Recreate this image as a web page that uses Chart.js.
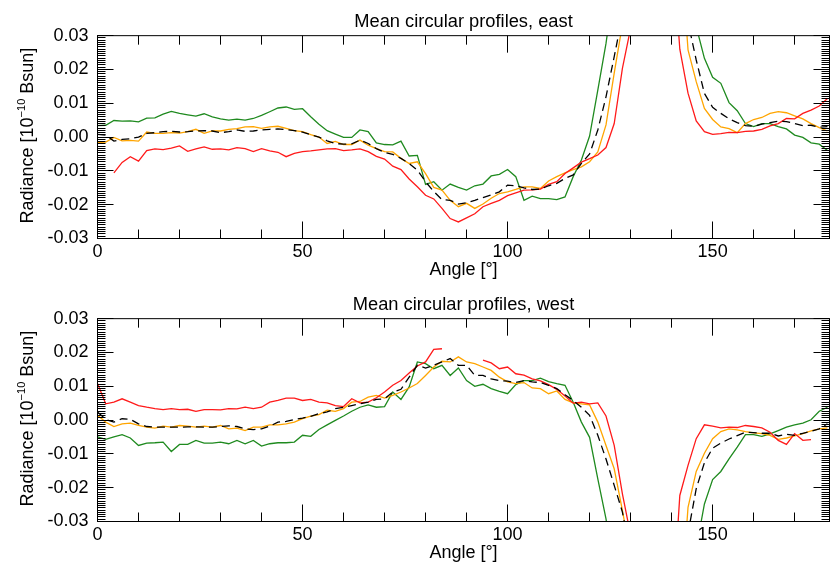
<!DOCTYPE html>
<html lang="en">
<head>
<meta charset="UTF-8">
<title>Mean circular profiles</title>
<style>
  body { margin: 0; background: #fff; }
  .panel { width: 831px; height: 285px; }
</style>
</head>
<body>
<div class="panel"><canvas id="eastChart" width="831" height="285"></canvas></div>
<div class="panel"><canvas id="westChart" width="831" height="285"></canvas></div>

<script src="https://cdn.jsdelivr.net/npm/chart.js"></script>
<script>
// angle grid, every 2 degrees
const angles = [0,2,4,6,8,10,12,14,16,18,20,22,24,26,28,30,32,34,36,38,40,42,44,46,48,50,52,54,56,58,
  60,62,64,66,68,70,72,74,76,78,80,82,84,86,88,90,92,94,96,98,100,102,104,106,108,110,112,114,116,118,
  120,122,124,126,128,130,132,134,136,138,140,142,144,146,148,150,152,154,156,158,160,162,164,166,168,170,172,174,176,178];

const xTicks = [0, 50, 100, 150];
const yTicks = [-0.03, -0.02, -0.01, 0, 0.01, 0.02, 0.03];

// east profiles
const eastMean = [0.0008,0.0006,-0.0012,-0.0007,-0.0005,0.0000,0.0011,0.0013,0.0016,0.0017,0.0015,0.0016,0.0018,0.0019,0.0018,0.0013,0.0016,0.0021,0.0017,0.0018,
  0.0021,0.0023,0.0024,0.0022,0.0019,0.0015,0.0007,0.0000,-0.0011,-0.0019,-0.0021,-0.0020,-0.0009,-0.0019,-0.0034,-0.0045,-0.0051,-0.0063,-0.0078,-0.0098,
  -0.0132,-0.0161,-0.0185,-0.0187,-0.0198,-0.0194,-0.0187,-0.0179,-0.0171,-0.0162,-0.0142,-0.0144,-0.0150,-0.0155,-0.0154,-0.0144,-0.0137,-0.0122,-0.0112,-0.0078,
  -0.0050,0.0021,0.0119,0.0238,0.036,0.06,0.06,0.06,0.06,0.06,0.06,0.06,0.034,0.0228,0.0129,0.0088,0.0070,0.0054,0.0043,0.0034,
  0.0032,0.0038,0.0043,0.0047,0.0046,0.0040,0.0034,0.0035,0.0029,0.0031];
const eastRed = [null,null,-0.0106,-0.0075,-0.0058,-0.0071,-0.0040,-0.0035,-0.0037,-0.0033,-0.0026,-0.0042,-0.0035,-0.0029,-0.0036,-0.0035,-0.0038,-0.0031,-0.0034,-0.0043,
  -0.0034,-0.0041,-0.0045,-0.0058,-0.0048,-0.0043,-0.0041,-0.0038,-0.0035,-0.0034,-0.0040,-0.0038,-0.0035,-0.0043,-0.0057,-0.0065,-0.0086,-0.0096,-0.0124,-0.0147,
  -0.0172,-0.0183,-0.0211,-0.0241,-0.0251,-0.0239,-0.0227,-0.0206,-0.0196,-0.0187,-0.0173,-0.0165,-0.0157,-0.0156,-0.0154,-0.0140,-0.0132,-0.0108,-0.0091,-0.0074,
  -0.0064,-0.0053,-0.0031,0.0040,0.0203,0.0322,0.06,0.06,0.06,0.06,0.06,0.026,0.0130,0.0048,0.0016,0.0008,0.0010,0.0014,0.0013,0.0017,
  0.0018,0.0023,0.0033,0.0040,0.0055,0.0054,0.0070,0.0080,0.0092,0.0114];
const eastOrange = [-0.0016,-0.0015,-0.0001,-0.0011,-0.0010,-0.0012,0.0015,0.0011,0.0011,0.0013,0.0012,0.0016,0.0023,0.0011,0.0018,0.0018,0.0023,0.0025,0.0030,0.0031,
  0.0026,0.0030,0.0032,0.0026,0.0019,0.0016,0.0007,0.0000,-0.0019,-0.0013,-0.0022,-0.0022,-0.0009,-0.0024,-0.0034,-0.0043,-0.0044,-0.0063,-0.0078,-0.0073,
  -0.0108,-0.0149,-0.0157,-0.0187,-0.0206,-0.0196,-0.0211,-0.0198,-0.0181,-0.0167,-0.0162,-0.0155,-0.0147,-0.0147,-0.0152,-0.0130,-0.0117,-0.0106,-0.0096,-0.0088,
  -0.0073,-0.0044,0.0036,0.0189,0.0333,0.06,0.06,0.06,0.06,0.06,0.06,0.06,0.0258,0.0164,0.0085,0.0052,0.0030,0.0025,0.0013,0.0040,
  0.0052,0.0058,0.0070,0.0075,0.0072,0.0063,0.0054,0.0040,0.0028,0.0018];
const eastGreen = [0.0034,0.0035,0.0049,0.0047,0.0048,0.0045,0.0056,0.0057,0.0068,0.0076,0.0070,0.0066,0.0062,0.0069,0.0060,0.0054,0.0050,0.0053,0.0050,0.0055,
  0.0064,0.0075,0.0086,0.0089,0.0082,0.0084,0.0060,0.0038,0.0019,0.0009,-0.0001,-0.0001,0.0021,0.0016,-0.0017,-0.0022,-0.0023,-0.0012,-0.0056,-0.0054,
  -0.0140,-0.0132,-0.0157,-0.0139,-0.0149,-0.0157,-0.0144,-0.0139,-0.0115,-0.0110,-0.0096,-0.0117,-0.0187,-0.0175,-0.0182,-0.0182,-0.0185,-0.0177,-0.0117,-0.0068,
  0.0003,0.0139,0.0277,0.045,0.06,0.06,0.06,0.06,0.06,0.06,0.06,0.06,0.06,0.0327,0.0233,0.0177,0.0159,0.0102,0.0078,0.0040,
  0.0031,0.0040,0.0040,0.0031,0.0024,0.0006,-0.0001,-0.0017,-0.0021,-0.0040];

// west profiles
const westMean = [0.0024,0.0002,-0.0006,0.0004,0.0002,-0.0011,-0.0019,-0.0021,-0.0021,-0.0021,-0.0021,-0.0020,-0.0020,-0.0021,-0.0021,-0.0019,-0.0017,-0.0019,-0.0026,-0.0028,
  -0.0026,-0.0018,-0.0006,-0.0004,0.0002,0.0006,0.0011,0.0019,0.0024,0.0034,0.0038,0.0043,0.0048,0.0053,0.0061,0.0063,0.0083,0.0091,0.0127,0.0162,
  0.0154,0.0162,0.0172,0.0182,0.0162,0.0162,0.0132,0.0132,0.0122,0.0117,0.0115,0.0111,0.0117,0.0113,0.0111,0.0103,0.0093,0.0075,0.0058,0.0038,
  0.0014,-0.0045,-0.0115,-0.0193,-0.0272,-0.04,-0.06,-0.06,-0.06,-0.06,-0.06,-0.06,-0.0335,-0.0203,-0.0126,-0.0083,-0.0068,-0.0056,-0.0046,-0.0036,
  -0.0037,-0.0039,-0.0039,-0.0047,-0.0042,-0.0045,-0.0039,-0.0033,-0.0026,-0.0011];
const westRed = [0.0108,0.0048,0.0053,0.0063,0.0053,0.0043,0.0038,0.0034,0.0031,0.0034,0.0031,0.0032,0.0026,0.0031,0.0031,0.0030,0.0034,0.0033,0.0038,0.0034,
  0.0038,0.0053,0.0058,0.0065,0.0065,0.0058,0.0061,0.0053,0.0051,0.0043,0.0040,0.0063,0.0051,0.0053,0.0066,0.0083,0.0103,0.0117,0.0139,0.0160,
  0.0172,0.0209,0.0211,null,null,null,null,0.0177,0.0169,0.0152,0.0157,0.0137,0.0133,0.0122,0.0116,0.0105,0.0091,0.0071,0.0050,0.0053,
  0.0048,0.0051,0.0012,-0.0075,-0.0218,-0.034,-0.06,-0.06,-0.06,-0.06,-0.06,-0.0223,-0.0134,-0.0055,-0.0014,-0.0018,-0.0023,-0.0021,-0.0022,-0.0016,
  -0.0019,-0.0023,-0.0036,-0.0060,-0.0072,-0.0040,-0.0060,-0.0058,null,null];
const westOrange = [0.0014,-0.0006,-0.0019,-0.0011,-0.0009,-0.0016,-0.0021,-0.0024,-0.0018,-0.0021,-0.0016,-0.0018,-0.0021,-0.0018,-0.0021,-0.0016,-0.0026,-0.0024,-0.0031,-0.0021,
  -0.0021,-0.0014,-0.0014,-0.0011,-0.0006,0.0004,0.0012,0.0016,0.0029,0.0026,0.0034,0.0053,0.0055,0.0068,0.0073,0.0065,0.0073,0.0083,0.0095,0.0108,
  0.0132,0.0157,0.0174,0.0172,0.0187,0.0172,0.0167,0.0157,0.0147,0.0127,0.0113,0.0108,0.0111,0.0095,0.0093,0.0078,0.0086,0.0061,0.0051,0.0048,
  0.0045,-0.0006,-0.0075,-0.0144,-0.0267,-0.04,-0.06,-0.06,-0.06,-0.06,-0.06,-0.06,-0.0258,-0.0152,-0.0098,-0.0055,-0.0034,-0.0026,-0.0029,-0.0034,
  -0.0038,-0.0040,-0.0045,-0.0057,-0.0053,-0.0047,-0.0040,-0.0032,-0.0026,-0.0023];
const westGreen = [-0.0050,-0.0057,-0.0050,-0.0043,-0.0053,-0.0075,-0.0068,-0.0067,-0.0065,-0.0093,-0.0072,-0.0072,-0.0060,-0.0068,-0.0068,-0.0065,-0.0070,-0.0060,-0.0070,-0.0060,
  -0.0077,-0.0070,-0.0067,-0.0067,-0.0065,-0.0045,-0.0048,-0.0028,-0.0014,-0.0001,0.0012,0.0026,0.0038,0.0045,0.0038,0.0040,0.0083,0.0061,0.0098,0.0172,
  0.0167,0.0152,0.0162,0.0132,0.0154,0.0117,0.0100,0.0106,0.0093,0.0085,0.0078,0.0105,0.0117,0.0117,0.0124,0.0114,0.0108,0.0103,0.0053,-0.0006,
  -0.0051,-0.0174,-0.0292,-0.045,-0.06,-0.06,-0.06,-0.06,-0.06,-0.06,-0.06,-0.06,-0.06,-0.038,-0.0248,-0.0176,-0.0152,-0.0115,-0.0080,-0.0043,
  -0.0043,-0.0048,-0.0041,-0.0031,-0.0021,-0.0014,-0.0009,0.0001,0.0026,0.0038];

const xMax = 178.5;
const fontFamily = '"Liberation Sans", Arial, Helvetica, sans-serif';
Chart.defaults.font.family = fontFamily;
Chart.defaults.font.size = 18;
Chart.defaults.color = '#000';

// inward tick marks on all four sides + frame, like the original plot
const frameTicks = {
  id: 'frameTicks',
  afterDraw(chart) {
    const { ctx, chartArea: a } = chart;
    const x = chart.scales.x, y = chart.scales.y;
    ctx.save();
    ctx.strokeStyle = '#000';
    ctx.lineWidth = 1;
    ctx.beginPath();
    for (let i = 0; i <= 90; i++) {
      const py = Math.round(y.getPixelForValue(-0.03 + i * 0.01 / 15) - 0.5) + 0.5;
      const len = i % 15 === 0 ? 16 : 8;
      ctx.moveTo(a.left, py); ctx.lineTo(a.left + len, py);
      ctx.moveTo(a.right, py); ctx.lineTo(a.right - len, py);
    }
    for (let v = 0; v <= xMax; v += 10) {
      const px = Math.round(x.getPixelForValue(v) - 0.5) + 0.5;
      const len = v % 50 === 0 ? 17 : 9;
      ctx.moveTo(px, a.bottom); ctx.lineTo(px, a.bottom - len);
      ctx.moveTo(px, a.top); ctx.lineTo(px, a.top + len);
    }
    ctx.stroke();
    ctx.strokeRect(a.left, a.top, a.right - a.left, a.bottom - a.top);
    ctx.restore();
  }
};

// y title with a real superscript exponent
const yTitle = {
  id: 'yTitle',
  afterDraw(chart) {
    const { ctx, chartArea: a } = chart;
    const parts = [
      { t: 'Radiance [10', size: 18, rise: 0 },
      { t: '\u221210', size: 11, rise: 8 },
      { t: ' Bsun]', size: 18, rise: 0 }
    ];
    ctx.save();
    let total = 0;
    parts.forEach(p => { ctx.font = p.size + 'px ' + fontFamily; p.w = ctx.measureText(p.t).width; total += p.w; });
    ctx.translate(33.3, (a.top + a.bottom) / 2 - 1.5);
    ctx.rotate(-Math.PI / 2);
    ctx.fillStyle = '#000';
    ctx.textBaseline = 'alphabetic';
    let cx = -total / 2;
    parts.forEach(p => {
      ctx.font = p.size + 'px ' + fontFamily;
      ctx.fillText(p.t, cx, -p.rise);
      cx += p.w;
    });
    ctx.restore();
  }
};

function series(vals) {
  return angles.map((a, i) => ({ x: a, y: vals[i] }));
}

function makeChart(id, title, mean, red, orange, green, lay) {
  return new Chart(document.getElementById(id), {
    type: 'line',
    data: {
      datasets: [
        { data: series(mean), borderColor: '#000', borderDash: [8, 5], borderWidth: 1.3 },
        { data: series(red), borderColor: '#ff1a1a', borderWidth: 1.3 },
        { data: series(orange), borderColor: '#ffa500', borderWidth: 1.3 },
        { data: series(green), borderColor: '#1f8a1f', borderWidth: 1.3 }
      ]
    },
    options: {
      responsive: false,
      animation: false,
      spanGaps: false,
      elements: { point: { radius: 0 }, line: { tension: 0 } },
      layout: { padding: { left: 0, right: 1.5, top: 0, bottom: 0 } },
      plugins: {
        legend: { display: false },
        tooltip: { enabled: false },
        title: {
          display: true, text: title, fullSize: false,
          font: { size: 18.3, weight: 'normal' }, color: '#000',
          padding: { top: lay.titleTop, bottom: lay.titleBottom }
        }
      },
      scales: {
        x: {
          type: 'linear', min: 0, max: xMax,
          grid: { display: false, drawTicks: false },
          border: { display: false },
          afterBuildTicks: (s) => { s.ticks = xTicks.map(v => ({ value: v })); },
          afterFit: (s) => { s.height = lay.xHeight; },
          ticks: { autoSkip: false, maxRotation: 0, padding: 3, callback: (v) => String(v) },
          title: { display: true, text: 'Angle [°]', font: { size: 18 }, padding: { top: 0, bottom: lay.xTitlePad } }
        },
        y: {
          min: -0.03, max: 0.03,
          grid: { display: false, drawTicks: false },
          border: { display: false },
          afterBuildTicks: (s) => { s.ticks = yTicks.map(v => ({ value: v })); },
          afterFit: (s) => { s.width = 97.5; },
          ticks: { padding: 9, callback: (v) => v.toFixed(2) },
          title: { display: false }
        }
      }
    },
    plugins: [frameTicks, yTitle]
  });
}

makeChart('eastChart', 'Mean circular profiles, east', eastMean, eastRed, eastOrange, eastGreen,
  { titleTop: 10.7, titleBottom: 3.0, xHeight: 46.5, xTitlePad: 3.7 });
makeChart('westChart', 'Mean circular profiles, west', westMean, westRed, westOrange, westGreen,
  { titleTop: 9, titleBottom: 2.7, xHeight: 48.5, xTitlePad: 6.1 });
</script>
</body>
</html>
